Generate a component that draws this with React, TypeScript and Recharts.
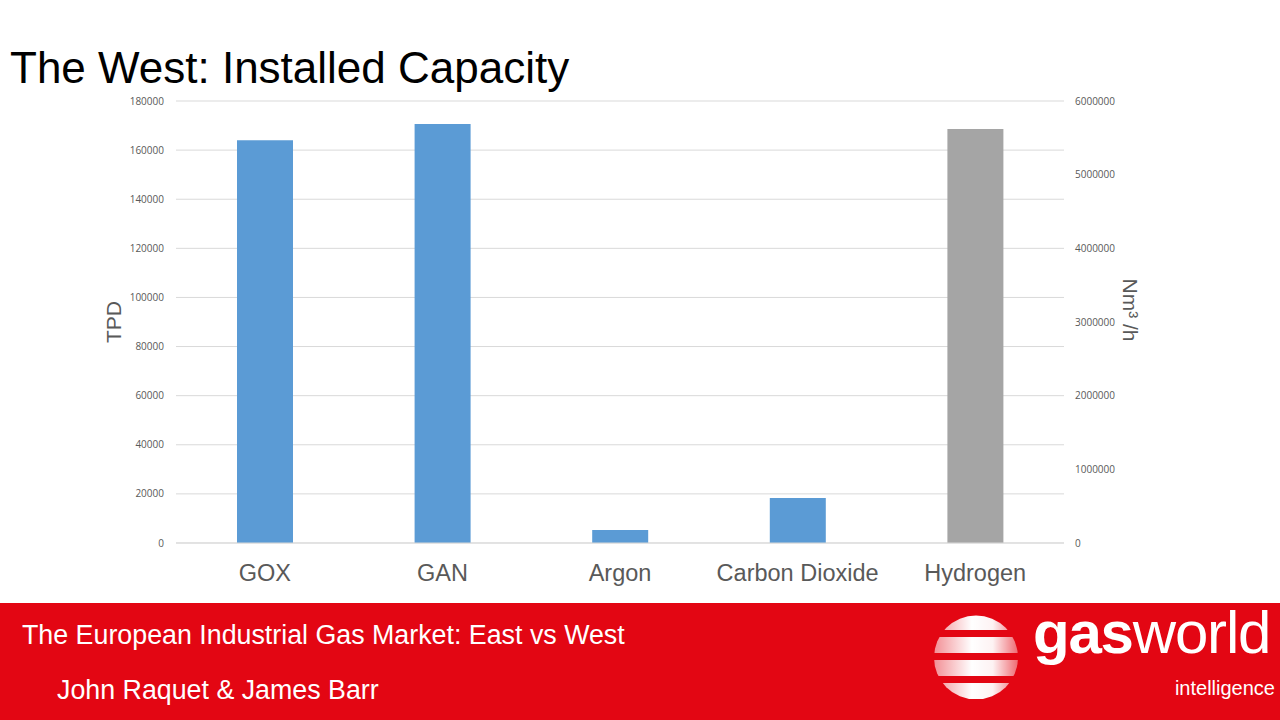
import { Bar, BarChart, CartesianGrid, XAxis, YAxis } from "recharts";

// values
const categories = ["GOX", "GAN", "Argon", "Carbon Dioxide", "Hydrogen"];
const tpdValues = [164000, 170600, 5300, 18300, null];
const nm3hValues = [null, null, null, null, 5620000];
const tpdTicks = [0, 20000, 40000, 60000, 80000, 100000, 120000, 140000, 160000, 180000];
const nm3hTicks = [0, 1000000, 2000000, 3000000, 4000000, 5000000, 6000000];

const data = categories.map((name, i) => ({
  name,
  tpd: tpdValues[i],
  nm3h: nm3hValues[i],
}));

const FONT = "'Liberation Sans', Arial, sans-serif";
const TICK_FONT = "'Open Sans', 'DejaVu Sans', sans-serif";
const GREY = "#595959";
const RED = "#E30613";

function LeftTitle(props: any) {
  const { x, y, width, height } = props.viewBox;
  const cx = x + width / 2;
  const cy = y + height / 2;
  return (
    <text
      x={cx}
      y={cy}
      transform={`rotate(-90 ${cx} ${cy})`}
      textAnchor="middle"
      dominantBaseline="central"
      fontFamily={FONT}
      fontSize={21}
      fill={GREY}
    >
      TPD
    </text>
  );
}

function RightTitle(props: any) {
  const { x, y, width, height } = props.viewBox;
  const cx = x + width / 2;
  const cy = y + height / 2 - 12;
  return (
    <text
      x={cx}
      y={cy}
      transform={`rotate(90 ${cx} ${cy})`}
      textAnchor="middle"
      dominantBaseline="central"
      fontFamily={FONT}
      fontSize={21}
      fill={GREY}
    >
      Nm³ /h
    </text>
  );
}

// footer svg starts at page y 583, so the red band begins at local y 20
const OFF = 20;

function Logo() {
  const bands = [
    { y: 12, h: 15 },
    { y: 34, h: 16 },
    { y: 57, h: 16 },
    { y: 80, h: 16 },
  ];
  return (
    <g transform={`translate(0 ${OFF})`}>
      <defs>
        <clipPath id="globe">
          <circle cx={976} cy={54.5} r={42} />
        </clipPath>
        <linearGradient id="band" x1="0" x2="1" y1="0" y2="0">
          <stop offset="0" stopColor="#fff" stopOpacity={0.55} />
          <stop offset="0.45" stopColor="#fff" stopOpacity={1} />
          <stop offset="0.7" stopColor="#fff" stopOpacity={0.95} />
          <stop offset="1" stopColor="#fff" stopOpacity={0.4} />
        </linearGradient>
      </defs>
      <g clipPath="url(#globe)">
        {bands.map((b, i) => (
          <rect key={i} x={934} y={b.y} width={84} height={b.h} fill="url(#band)" />
        ))}
      </g>
      <text x={1033} y={50} fontFamily={FONT} fontSize={60} fill="#fff" letterSpacing={-1.2}>
        <tspan fontWeight="bold">gas</tspan>
        <tspan>world</tspan>
      </text>
      <text x={1275} y={92} textAnchor="end" fontFamily={FONT} fontSize={20} fill="#fff">
        intelligence
      </text>
    </g>
  );
}

export default function App() {
  return (
    <div
      style={{
        position: "absolute",
        left: 0,
        top: 0,
        width: 1280,
        height: 720,
        background: "#fff",
        overflow: "hidden",
      }}
    >
      <svg width={1280} height={100} style={{ position: "absolute", left: 0, top: 0 }}>
        <text x={10} y={83} fontFamily={FONT} fontSize={44} fill="#000">
          The West: Installed Capacity
        </text>
      </svg>

      <div style={{ position: "absolute", left: 0, top: 0 }}>
        <BarChart
          width={1280}
          height={600}
          data={data}
          margin={{ top: 101, right: 84, bottom: 17, left: 50 }}
        >
          <CartesianGrid yAxisId="left" vertical={false} stroke="#d9d9d9" />
          <XAxis
            dataKey="name"
            xAxisId={0}
            height={40}
            tickLine={false}
            axisLine={{ stroke: "#d9d9d9" }}
            tickSize={0}
            tickMargin={21}
            tick={{ fontSize: 23.5, fill: GREY, fontFamily: FONT }}
            interval={0}
          />
          <YAxis
            yAxisId="left"
            width={126}
            domain={[0, 180000]}
            ticks={tpdTicks}
            tickLine={false}
            axisLine={false}
            tickSize={0}
            tickMargin={12}
            tick={{ fontSize: 10, fill: GREY, fontFamily: TICK_FONT }}
            label={{ content: LeftTitle }}
          />
          <YAxis
            yAxisId="right"
            orientation="right"
            width={132}
            domain={[0, 6000000]}
            ticks={nm3hTicks}
            tickLine={false}
            axisLine={false}
            tickSize={0}
            tickMargin={11}
            tick={{ fontSize: 10, fill: GREY, fontFamily: TICK_FONT, textAnchor: "start" }}
            label={{ content: RightTitle }}
          />
          <Bar
            yAxisId="left"
            dataKey="tpd"
            stackId="s"
            barSize={56}
            fill="#5B9BD5"
            isAnimationActive={false}
          />
          <Bar
            yAxisId="right"
            dataKey="nm3h"
            stackId="s"
            barSize={56}
            fill="#A5A5A5"
            isAnimationActive={false}
          />
        </BarChart>
      </div>

      <svg
        width={1280}
        height={137}
        style={{ position: "absolute", left: 0, top: 603 - OFF, pointerEvents: "none" }}
      >
        <rect x={0} y={OFF} width={1280} height={117} fill={RED} />
        <text x={22} y={41 + OFF} fontFamily={FONT} fontSize={26.8} fill="#fff">
          The European Industrial Gas Market: East vs West
        </text>
        <text x={57} y={96 + OFF} fontFamily={FONT} fontSize={26.8} fill="#fff">
          John Raquet &amp; James Barr
        </text>
        <Logo />
      </svg>
    </div>
  );
}
